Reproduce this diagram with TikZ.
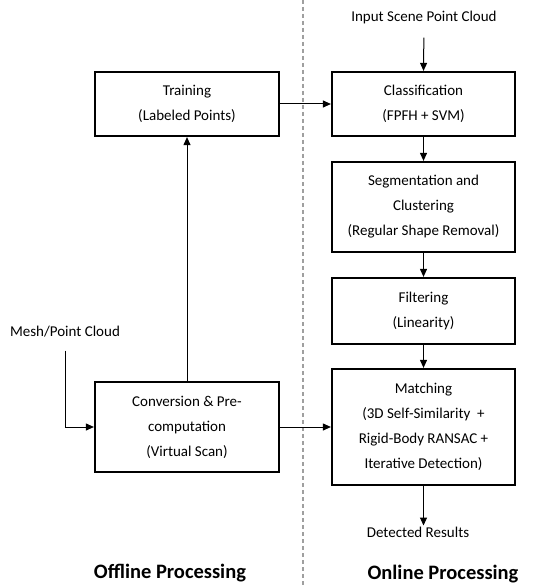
\documentclass[tikz,border=0pt]{standalone}
\usepackage{fontspec}
\setmainfont{Carlito}
\usetikzlibrary{arrows.meta}
\begin{document}
\begin{tikzpicture}[x=1pt,y=-1pt,
  box/.style={draw, line width=2.2pt, align=center, inner sep=0pt,
    font=\fontsize{15}{25}\selectfont},
  lbl/.style={font=\fontsize{15}{18}\selectfont, inner sep=1pt},
  ttl/.style={font=\fontsize{20.5}{24}\selectfont\bfseries, inner sep=1pt},
  arr/.style={line width=1pt, -{Triangle[length=8pt,width=7pt]}}]
\useasboundingbox (0,0) rectangle (548,588);
\draw[gray!75, line width=1.5pt, dash pattern=on 4pt off 3pt] (303,0) -- (303,588);
\node[box, minimum width=184pt, minimum height=64pt] (train) at (187,104) {Training\\(Labeled Points)};
\node[box, minimum width=183pt, minimum height=64pt] (class) at (423.5,104) {Classification\\(FPFH + SVM)};
\node[box, minimum width=183pt, minimum height=90pt] (seg) at (423.5,207) {Segmentation and\\Clustering\\(Regular Shape Removal)};
\node[box, minimum width=183pt, minimum height=66pt] (filt) at (423.5,311) {Filtering\\(Linearity)};
\node[box, minimum width=183pt, minimum height=116pt] (match) at (423.5,427) {Matching\\(3D Self-Similarity\ \ +\\Rigid-Body RANSAC +\\Iterative Detection)};
\node[box, minimum width=184pt, minimum height=90pt] (conv) at (187,427) {Conversion \& Pre-\\computation\\(Virtual Scan)};
\node[lbl] (inp) at (424,18) {Input Scene Point Cloud};
\node[lbl] (mesh) at (65,332) {Mesh/Point Cloud};
\node[lbl] (det) at (418,532) {Detected Results};
\node[ttl] (off) at (170,573) {Offline Processing};
\node[ttl] (on) at (443,574) {Online Processing};
\draw[arr, shorten <=12pt] (inp.south) -- (class.north);
\draw[arr] (class.south) -- (seg.north);
\draw[arr] (seg.south) -- (filt.north);
\draw[arr] (filt.south) -- (match.north);
\draw[arr] (match.south) -- (match.south |- det.north) coordinate (detin);
\draw[arr] (train.east) -- (class.west);
\draw[arr] (conv.east) -- (match.west);
\draw[arr] (conv.north) -- (train.south);
\draw[arr, shorten <=12pt] (mesh.south) |- (conv.west);
\end{tikzpicture}
\end{document}
